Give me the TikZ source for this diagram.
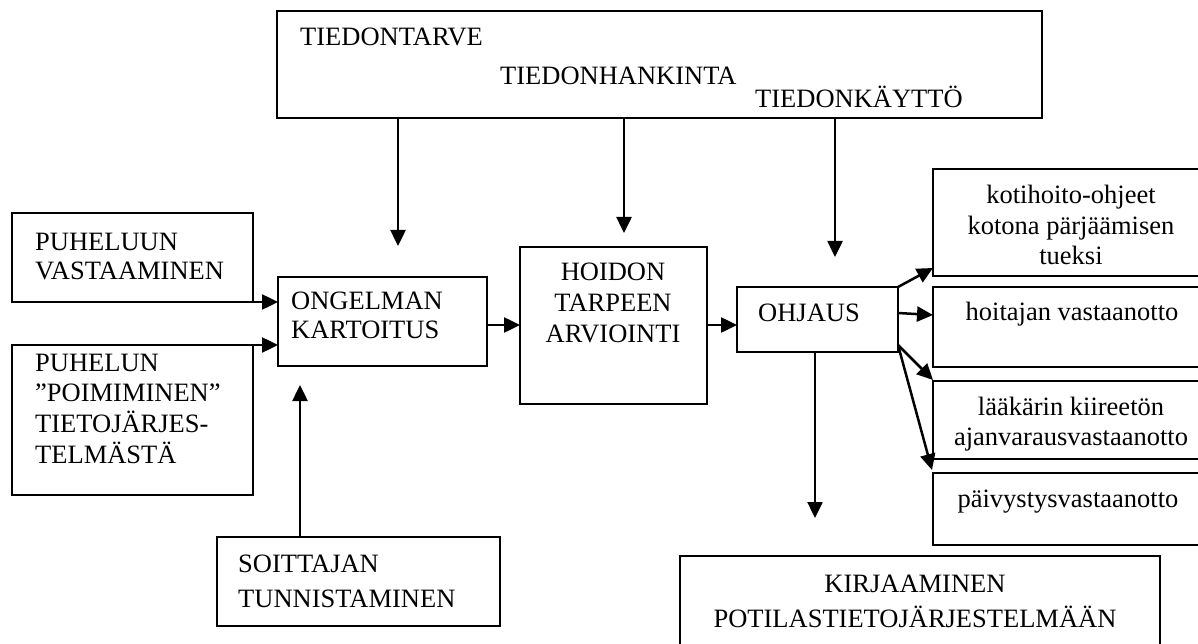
\documentclass[tikz,border=0pt]{standalone}
\usepackage{fontspec}
\setmainfont{Liberation Serif}
\usetikzlibrary{arrows.meta}
\begin{document}
\begin{tikzpicture}[x=1pt,y=-1pt,
  box/.style={draw, line width=1.5pt, rectangle, inner sep=0pt, outer sep=0pt, anchor=north west},
  lbl/.style={anchor=base west, inner sep=0pt, font=\fontsize{26.5}{30}\selectfont},
  clbl/.style={anchor=base, inner sep=0pt, font=\fontsize{26.5}{30}\selectfont},
  arr/.style={line width=2.5pt, -{Triangle[length=16pt 0,width=15pt 0]}}]
\clip (0,0) rectangle (1198,644);
\fill[white] (0,0) rectangle (1198,644);

% boxes
\node[box, minimum width=765pt, minimum height=107pt] (top) at (277,11) {};
\node[box, minimum width=241pt, minimum height=89pt] (p1) at (12,213) {};
\node[box, minimum width=241pt, minimum height=150pt] (p2) at (12,345) {};
\node[box, minimum width=209pt, minimum height=89pt] (ong) at (278,277) {};
\node[box, minimum width=187pt, minimum height=157pt] (hoi) at (520,247) {};
\node[box, minimum width=161pt, minimum height=65pt] (ohj) at (737,287) {};
\node[box, minimum width=280pt, minimum height=107pt] (koti) at (933,169) {};
\node[box, minimum width=280pt, minimum height=80pt] (hoit) at (933,287) {};
\node[box, minimum width=280pt, minimum height=78pt] (laak) at (933,381) {};
\node[box, minimum width=280pt, minimum height=72pt] (paiv) at (933,473) {};
\node[box, minimum width=283pt, minimum height=89pt] (soit) at (217,537) {};
\node[box, minimum width=480pt, minimum height=110pt] (kirj) at (680,556) {};

% texts
\node[lbl] (tA) at (300,46) {TIEDONTARVE};
\node[lbl] (tB) at (500,85) {TIEDONHANKINTA};
\node[lbl] (tC) at (755,108) {TIEDONKÄYTTÖ};

\node[lbl] (p1a) at (35,251) {PUHELUUN};
\node[lbl] (p1b) at (35,279) {VASTAAMINEN};

\node[lbl] (p2a) at (35,371) {PUHELUN};
\node[lbl] (p2b) at (35,401) {”POIMIMINEN”};
\node[lbl] (p2c) at (35,432) {TIETOJÄRJES-};
\node[lbl] (p2d) at (35,463) {TELMÄSTÄ};

\node[lbl] (onga) at (291,309) {ONGELMAN};
\node[lbl] (ongb) at (291,338) {KARTOITUS};

\node[clbl] (hoia) at (613,280) {HOIDON};
\node[clbl] (hoib) at (613,311) {TARPEEN};
\node[clbl] (hoic) at (613,342) {ARVIOINTI};

\node[lbl] (ohja) at (758,321) {OHJAUS};

\node[clbl] (kotia) at (1071,204) {kotihoito-ohjeet};
\node[clbl] (kotib) at (1071,235) {kotona pärjäämisen};
\node[clbl] (kotic) at (1071,265) {tueksi};
\node[clbl] (hoita) at (1072,320) {hoitajan vastaanotto};
\node[clbl] (laaka) at (1071,415) {lääkärin kiireetön};
\node[clbl] (laakb) at (1071,445) {ajanvarausvastaanotto};
\node[clbl] (paiva) at (1068,507) {päivystysvastaanotto};

\node[lbl] (soita) at (238,572) {SOITTAJAN};
\node[lbl] (soitb) at (238,607) {TUNNISTAMINEN};

\node[clbl] (kirja) at (915,592) {KIRJAAMINEN};
\node[clbl] (kirjb) at (915,627) {POTILASTIETOJÄRJESTELMÄÄN};

% free arrow ends
\coordinate (e1) at (398,246);
\coordinate (e2) at (624,233);
\coordinate (e3) at (835,257);
\coordinate (e4) at (300,385);
\coordinate (e5) at (815,518);

% connectors
\draw[arr] (top.south -| e1) -- (e1);
\draw[arr] (top.south -| e2) -- (e2);
\draw[arr] (top.south -| e3) -- (e3);
\draw[arr] (p1.south east) -- (p1.south east -| ong.west);
\draw[arr] (p2.north east) -- (p2.north east -| ong.west);
\draw[arr] (soit.north -| e4) -- (e4);
\draw[arr] (ong.east |- 0,325) -- (hoi.west |- 0,325);
\draw[arr] (hoi.east |- 0,325) -- (ohj.west |- 0,325);
\draw[arr] (ohj.north east) -- ([yshift=8pt]koti.south west);
\draw[arr] ([yshift=-26pt]ohj.north east) -- ([yshift=-28pt]hoit.north west);
\draw[arr] ([yshift=7pt]ohj.south east) -- ([yshift=1pt]laak.north west);
\draw[arr] ([yshift=7pt]ohj.south east) -- ([xshift=-1pt,yshift=3pt]paiv.north west);
\draw[arr] (ohj.south -| e5) -- (e5);
\end{tikzpicture}
\end{document}
